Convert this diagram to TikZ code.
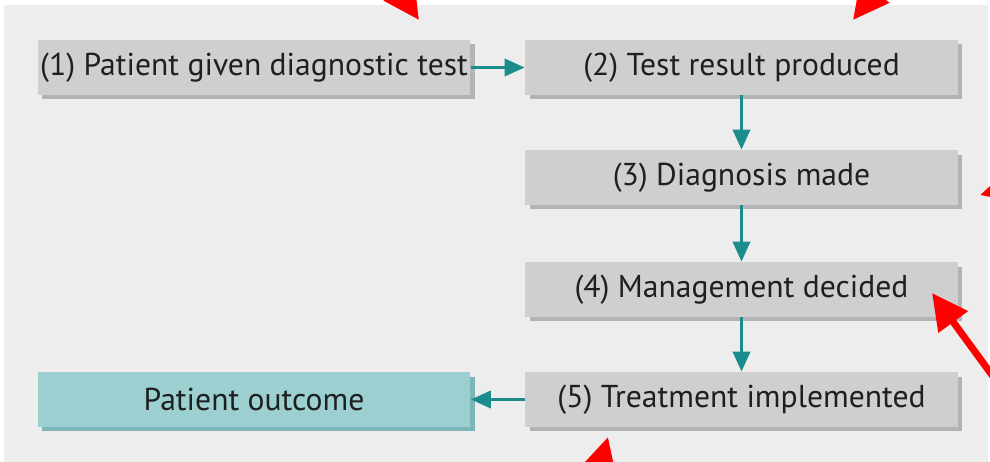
\documentclass[tikz,border=0pt]{standalone}
\usepackage{fontspec}
\setmainfont{PT Sans}
\usetikzlibrary{arrows.meta, positioning, shadows}
\definecolor{panelgray}{HTML}{EDEDED}
\definecolor{boxgray}{HTML}{CFCFCF}
\definecolor{shadowgray}{HTML}{B3B3B3}
\definecolor{outcometeal}{HTML}{9BCFD0}
\definecolor{outcomeshadow}{HTML}{7DB6B7}
\definecolor{flowteal}{HTML}{1B8C8C}
\definecolor{pointred}{HTML}{FF0000}
\tikzset{
	boxbase/.style={rectangle, minimum width=8.66cm, minimum height=1.1cm, inner sep=0pt, text=black!88, font=\fontsize{18}{21}\selectfont},
	block/.style={boxbase, fill=boxgray, general shadow={fill=shadowgray, shadow xshift=0.09cm, shadow yshift=-0.09cm}},
	outcomebox/.style={boxbase, fill=outcometeal, general shadow={fill=outcomeshadow, shadow xshift=0.09cm, shadow yshift=-0.09cm}},
	line/.style={draw=flowteal, line width=2pt, -{Triangle[length=4mm, width=3.4mm]}},
	redpointer/.style={draw=pointred, line width=4pt, -{Triangle[length=7.2mm, width=7mm]}}
}

\begin{document}
\begin{tikzpicture}[x=0.02cm, y=-0.02cm]
	% Frame and grey panel (pixel coordinates)
	\useasboundingbox (0,0) rectangle (990,462);
	\clip (0,0) rectangle (990,462);
	\fill[panelgray] (4,5) rectangle (988,462);
	
	% Steps of the pathway
	\node[block] (step1) at (254,67.5) {(1) Patient given diagnostic test};
	\node[block] (step2) at (741.5,67.5) {(2) Test result produced};
	\node[block] (step3) at (741.5,177.5) {(3) Diagnosis made};
	\node[block] (step4) at (741.5,289.5) {(4) Management decided};
	\node[block] (step5) at (741.5,399.5) {(5) Treatment implemented};
	\node[outcomebox] (outcome) at (254,399.5) {Patient outcome};
	
	% Flow arrows
	\draw[line] (step1) -- (step2);
	\draw[line] (step2) -- (step3);
	\draw[line] (step3) -- (step4);
	\draw[line] (step4) -- (step5);
	\draw[line] (step5) -- (outcome);
	
	% Red pointers coming in from the edges
	\coordinate (tipA) at (419,20);
	\coordinate (tipB) at (853,20);
	\coordinate (tipC) at (980,195);
	\coordinate (tipD) at (932,293);
	\coordinate (tipE) at (608,437);
	\draw[redpointer] (385,-30) -- (tipA);
	\draw[redpointer] (890,-28) -- (tipB);
	\draw[redpointer] (1035,180) -- (tipC);
	\draw[redpointer] (1000,386) -- (tipD);
	\draw[redpointer] (592,495) -- (tipE);
\end{tikzpicture}
\end{document}
